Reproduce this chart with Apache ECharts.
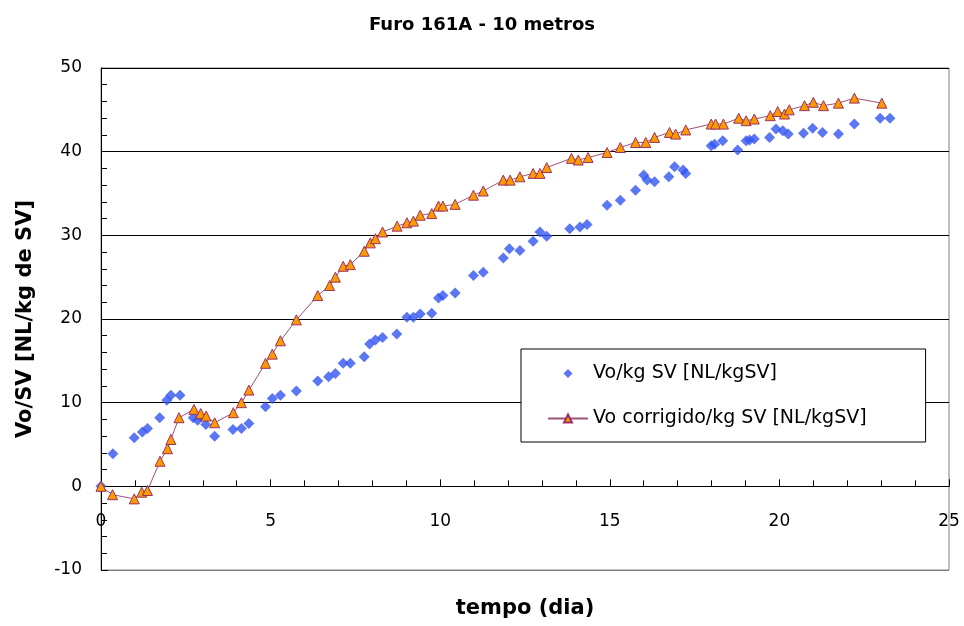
<!DOCTYPE html>
<html>
<head>
<meta charset="utf-8">
<script src="https://cdn.jsdelivr.net/npm/echarts@6/dist/echarts.min.js"></script>
<style>
  html, body { margin: 0; padding: 0; background: #fff; }
  #chart { width: 964px; height: 626px; }
</style>
</head>
<body>
<div id="chart"></div>
<script>
  // Vo/kg SV (diamantes azuis)
  let diasVo = [0, 0.35, 0.98, 1.22, 1.37, 1.73, 1.94, 2.06, 2.33, 2.72, 2.85, 2.94, 3.09, 3.35, 3.89, 4.14, 4.36,
    4.85, 5.05, 5.29, 5.76, 6.39, 6.71, 6.91, 7.14, 7.35, 7.76, 7.92, 8.09, 8.30, 8.72, 9.02, 9.21, 9.41, 9.75,
    9.95, 10.08, 10.44, 10.98, 11.27, 11.86, 12.04, 12.35, 12.74, 12.94, 13.14, 13.82, 14.12, 14.33, 14.92, 15.31,
    15.76, 16.0, 16.1, 16.32, 16.74, 16.91, 17.16, 17.24, 17.99, 18.09, 18.33, 18.77, 19.02, 19.12, 19.26, 19.71,
    19.90, 20.10, 20.26, 20.71, 20.98, 21.27, 21.74, 22.21, 22.97, 23.26]
  let vo = [0, 3.9, 5.8, 6.5, 6.9, 8.2, 10.3, 10.9, 10.9, 8.2, 7.9, 8.4, 7.4, 6.0, 6.8, 6.9, 7.5,
    9.5, 10.5, 10.9, 11.4, 12.6, 13.1, 13.5, 14.7, 14.7, 15.5, 17.0, 17.5, 17.8, 18.2, 20.2, 20.2, 20.6, 20.7,
    22.5, 22.8, 23.1, 25.2, 25.6, 27.3, 28.4, 28.2, 29.3, 30.4, 29.9, 30.8, 31.0, 31.3, 33.6, 34.2,
    35.4, 37.2, 36.6, 36.4, 37.0, 38.2, 37.8, 37.4, 40.7, 40.9, 41.3, 40.2, 41.3, 41.4, 41.5, 41.7,
    42.7, 42.5, 42.1, 42.2, 42.8, 42.3, 42.1, 43.3, 44.0, 44.0]

  // Vo corrigido/kg SV (triangulos laranja)
  let diasCorr = [0, 0.34, 0.98, 1.2, 1.37, 1.74, 1.96, 2.06, 2.30, 2.74, 2.94, 3.1, 3.35, 3.9, 4.14, 4.36,
    4.85, 5.05, 5.29, 5.76, 6.39, 6.74, 6.91, 7.14, 7.35, 7.76, 7.94, 8.09, 8.30, 8.73, 9.02, 9.21, 9.41, 9.75,
    9.95, 10.08, 10.44, 10.98, 11.27, 11.86, 12.06, 12.35, 12.74, 12.94, 13.14, 13.87, 14.07, 14.36, 14.92, 15.31,
    15.76, 16.06, 16.32, 16.76, 16.94, 17.24, 17.99, 18.12, 18.35, 18.8, 19.02, 19.26, 19.73, 19.95, 20.15, 20.29,
    20.74, 21.0, 21.3, 21.74, 22.21, 23.02]
  let voCorr = [0, -1.0, -1.5, -0.7, -0.5, 3.0, 4.5, 5.6, 8.2, 9.2, 8.7, 8.4, 7.6, 8.8, 10.0, 11.5,
    14.7, 15.8, 17.4, 19.9, 22.8, 24.0, 25.0, 26.3, 26.5, 28.1, 29.1, 29.6, 30.4, 31.1, 31.5, 31.7, 32.4, 32.6,
    33.5, 33.5, 33.7, 34.8, 35.3, 36.6, 36.6, 37.0, 37.4, 37.4, 38.1, 39.2, 39.0, 39.3, 39.9, 40.5,
    41.1, 41.1, 41.7, 42.3, 42.1, 42.6, 43.3, 43.3, 43.3, 44.0, 43.7, 43.9, 44.3, 44.8, 44.5, 45.0,
    45.5, 45.9, 45.5, 45.8, 46.4, 45.8]

  let nomes = ['Vo/kg SV [NL/kgSV]', 'Vo corrigido/kg SV [NL/kgSV]']
  let titulo = 'Furo 161A - 10 metros'

  let myChart = echarts.init(document.getElementById('chart'))
  let fonte = 'DejaVu Sans, sans-serif'
  let option = {
    animation: false,
    backgroundColor: '#fff',
    title: {
      text: titulo,
      left: 'center',
      top: 11,
      textStyle: { fontFamily: fonte, fontSize: 18, fontWeight: 'bold', color: '#000' }
    },
    legend: {
      orient: 'vertical',
      left: 521,
      top: 349,
      padding: [15, 59, 14, 26],
      itemGap: 26,
      itemWidth: 40,
      itemHeight: 10,
      borderColor: '#000',
      borderWidth: 1,
      backgroundColor: '#fff',
      textStyle: { fontFamily: fonte, fontSize: 19, color: '#000' },
      data: [
        // losango pequeno no meio do espaco do icone
        { name: nomes[0], icon: 'path://M0,0M40,10M15.5,5L20,0.5L24.5,5L20,9.5Z' },
        nomes[1]
      ]
    },
    grid: {
      left: 101,
      right: 15,
      top: 68,
      bottom: 56,
      outerBoundsMode: 'none',
      show: true,
      borderColor: '#808080',
      borderWidth: 1
    },
    xAxis: {
      type: 'value',
      min: 0,
      max: 25,
      interval: 5,
      name: 'tempo (dia)',
      nameLocation: 'middle',
      nameGap: 28,
      nameTextStyle: { fontFamily: fonte, fontSize: 21, fontWeight: 'bold', color: '#000' },
      axisLine: { onZero: true, lineStyle: { color: '#000', width: 1 } },
      axisTick: { inside: true, length: 7, lineStyle: { color: '#000' } },
      minorTick: { show: true, splitNumber: 5, length: 6, lineStyle: { color: '#000' } },
      axisLabel: { margin: -57, fontFamily: fonte, fontSize: 17, color: '#000' },
      splitLine: { show: false }
    },
    yAxis: {
      type: 'value',
      min: -10,
      max: 50,
      interval: 10,
      name: 'Vo/SV [NL/kg de SV]',
      nameLocation: 'middle',
      nameGap: 65,
      nameTextStyle: { fontFamily: fonte, fontSize: 21, fontWeight: 'bold', color: '#000' },
      axisLine: { show: true, onZero: false, lineStyle: { color: '#000', width: 1 } },
      axisTick: { inside: true, length: 7, lineStyle: { color: '#000' } },
      minorTick: { show: true, splitNumber: 5, length: 6, lineStyle: { color: '#000' } },
      axisLabel: { margin: 19, fontFamily: fonte, fontSize: 17, color: '#000' },
      splitLine: {
        show: true,
        lineStyle: { color: ['#808080', '#000', '#000', '#000', '#000', '#000', '#000'], width: 1 }
      }
    },
    series: [
      {
        name: nomes[0],
        type: 'scatter',
        symbol: 'diamond',
        symbolSize: 11,
        itemStyle: { color: '#3355f0' },
        data: diasVo.map((d, i) => [d, vo[i]])
      },
      {
        name: nomes[1],
        type: 'line',
        symbol: 'triangle',
        symbolSize: 10,
        showAllSymbol: true,
        lineStyle: { color: '#a0507a', width: 1 },
        itemStyle: { color: '#ff9900', borderColor: '#993366', borderWidth: 1 },
        data: diasCorr.map((d, i) => [d, voCorr[i]])
      }
    ]
  }
  myChart.setOption(option)
</script>
</body>
</html>
